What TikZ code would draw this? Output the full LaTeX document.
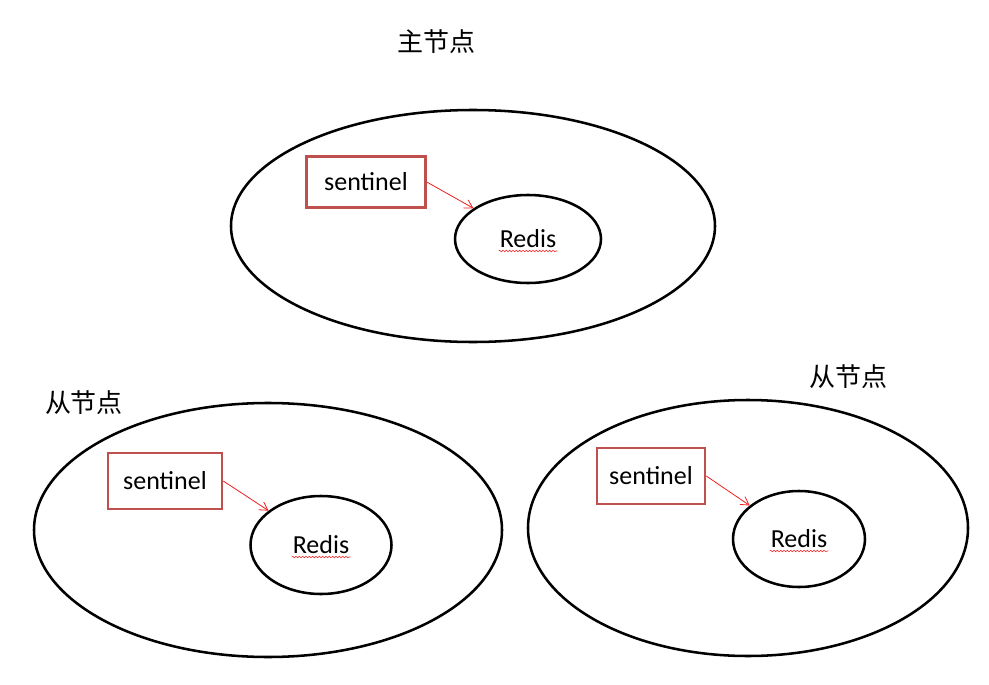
\documentclass[tikz,border=0pt]{standalone}
\usepackage{fontspec}
\setmainfont{Carlito}
\newfontfamily\cjk{Noto Sans CJK SC}
\usepackage{tikz}
\usetikzlibrary{arrows.meta,positioning,shapes.geometric,decorations.pathmorphing}
\definecolor{boxred}{RGB}{192,80,77}
\definecolor{arrowred}{RGB}{240,30,30}
\tikzset{
  % 外层节点椭圆
  host/.style={
    draw=black,
    ellipse,
    line width=1.9pt,
    inner sep=0pt
  },
  % Redis 椭圆
  redis/.style={
    draw=black,
    ellipse,
    line width=1.9pt,
    inner sep=0pt,
    font=\fontsize{19.5}{22}\selectfont
  },
  % sentinel 方框
  sentbox/.style={
    draw=boxred,
    line width=1.9pt,
    inner sep=0pt,
    font=\fontsize{19.5}{22}\selectfont
  },
  % 箭头样式
  arr/.style={-{Straight Barb[length=6pt,width=7pt]}, line width=0.6pt, arrowred},
  % 拼写检查波浪线
  squiggle/.style={arrowred, line width=0.4pt,
    decorate, decoration={snake, amplitude=0.6pt, segment length=2.5pt}},
  % 标题文字
  role/.style={font=\cjk\fontsize{19.5}{22}\selectfont}
}

\begin{document}
\begin{tikzpicture}[x=0.75pt, y=-0.75pt]
        \useasboundingbox (0,0) rectangle (989,685);

        % 主节点
        \node[host, minimum width=484*0.75pt, minimum height=232*0.75pt] (h1) at (473,226) {};
        \node[redis, minimum width=146*0.75pt, minimum height=88*0.75pt] (r1) at (528,239) {Redis};
        \node[sentbox, minimum width=119*0.75pt, minimum height=51*0.75pt] (s1) at (366,182) {sentinel};
        \node[role] (t1) at (436,42) {主节点};
        \draw[arr] (s1.east) -- (r1);
        \draw[squiggle] ([xshift=-22pt,yshift=-9pt]r1.center) -- ([xshift=22pt,yshift=-9pt]r1.center);

        % 从节点 (左)
        \node[host, minimum width=468*0.75pt, minimum height=254*0.75pt] (h2) at (268,530) {};
        \node[redis, minimum width=141*0.75pt, minimum height=98*0.75pt] (r2) at (321,545) {Redis};
        \node[sentbox, minimum width=114*0.75pt, minimum height=56*0.75pt] (s2) at (165,481) {sentinel};
        \node[role] (t2) at (84,403) {从节点};
        \draw[arr] (s2.east) -- (r2);
        \draw[squiggle] ([xshift=-22pt,yshift=-9pt]r2.center) -- ([xshift=22pt,yshift=-9pt]r2.center);

        % 从节点 (右)
        \node[host, minimum width=440*0.75pt, minimum height=256*0.75pt] (h3) at (748,528) {};
        \node[redis, minimum width=132*0.75pt, minimum height=96*0.75pt] (r3) at (799,539) {Redis};
        \node[sentbox, minimum width=108*0.75pt, minimum height=56*0.75pt] (s3) at (651,476) {sentinel};
        \node[role] (t3) at (848,377) {从节点};
        \draw[arr] (s3.east) -- (r3);
        \draw[squiggle] ([xshift=-22pt,yshift=-9pt]r3.center) -- ([xshift=22pt,yshift=-9pt]r3.center);
    \end{tikzpicture}
\end{document}
